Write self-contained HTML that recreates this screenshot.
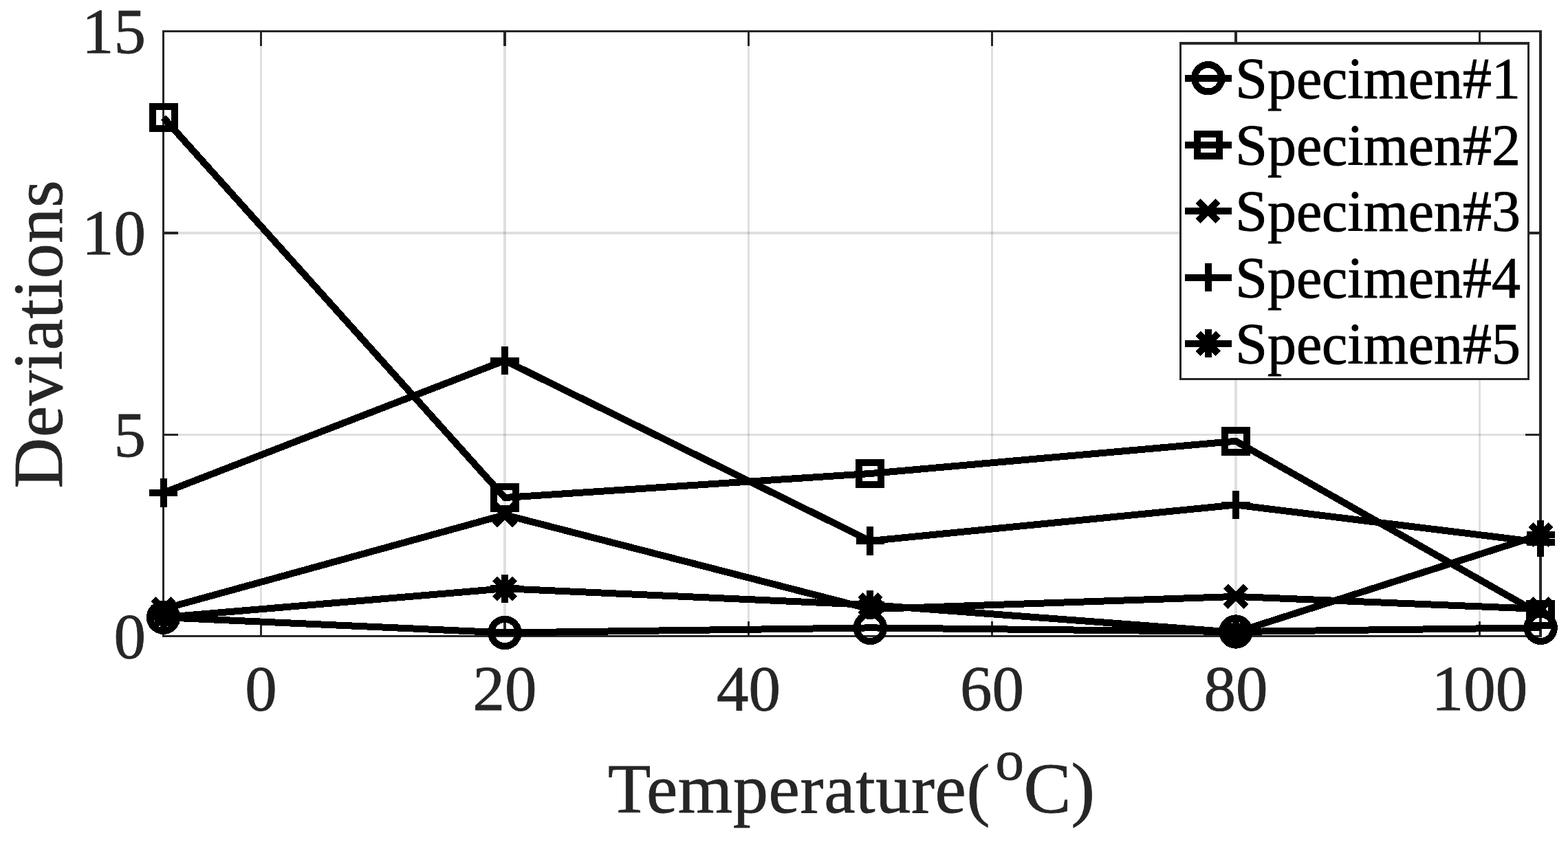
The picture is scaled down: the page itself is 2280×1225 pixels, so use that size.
<!DOCTYPE html>
<html lang="en"><head><meta charset="utf-8"><title>Deviations vs Temperature</title>
<style>
html,body{margin:0;padding:0;background:#fff;}
body{width:2280px;height:1225px;overflow:hidden;}
svg{display:block;}
text{font-family:"Liberation Serif","Times New Roman",Times,serif;}
.tk{font-size:93px;fill:#262626;stroke:#262626;stroke-width:0.8;}
.lb{font-size:103.4px;fill:#262626;stroke:#262626;stroke-width:0.8;}
.lm{font-size:102px;letter-spacing:0.7px;}
.sup{font-size:83px;}
.lg{font-size:85.5px;fill:#000;stroke:#000;stroke-width:1;}
.grid rect{fill:#262626;fill-opacity:0.15;}
.ax rect{fill:#262626;}
.data{stroke:#000;stroke-width:10;fill:none;stroke-linejoin:miter;stroke-linecap:butt;shape-rendering:crispEdges;}
.data polyline{stroke-linejoin:round;}
</style></head><body>
<svg width="2280" height="1225" viewBox="0 0 2280 1225">
<rect x="0" y="0" width="2280" height="1225" fill="#fff"/>
<g class="grid">
<rect x="378" y="67" width="3" height="837"/>
<rect x="732" y="67" width="4" height="837"/>
<rect x="1087" y="67" width="3" height="837"/>
<rect x="1441" y="67" width="3" height="837"/>
<rect x="1795" y="67" width="4" height="837"/>
<rect x="2150" y="67" width="3" height="837"/>
<rect x="259" y="631" width="1959" height="3"/>
<rect x="259" y="337" width="1959" height="4"/>
</g>
<g class="ax">
<rect x="236" y="44" width="2006" height="3"/>
<rect x="236" y="924" width="2006" height="3"/>
<rect x="236" y="47" width="3" height="877"/>
<rect x="2238" y="47" width="4" height="877"/>
<rect x="378" y="47" width="3" height="20"/>
<rect x="378" y="904" width="3" height="20"/>
<rect x="732" y="47" width="4" height="20"/>
<rect x="732" y="904" width="4" height="20"/>
<rect x="1087" y="47" width="3" height="20"/>
<rect x="1087" y="904" width="3" height="20"/>
<rect x="1441" y="47" width="3" height="20"/>
<rect x="1441" y="904" width="3" height="20"/>
<rect x="1795" y="47" width="4" height="20"/>
<rect x="1795" y="904" width="4" height="20"/>
<rect x="2150" y="47" width="3" height="20"/>
<rect x="2150" y="904" width="3" height="20"/>
<rect x="239" y="631" width="20" height="3"/>
<rect x="2218" y="631" width="20" height="3"/>
<rect x="239" y="337" width="20" height="4"/>
<rect x="2218" y="337" width="20" height="4"/>
</g>
<g class="data">
<polyline points="237.6,898.2 734,920.5 1265.4,913.4 1797,919 2240.2,913.3"/>
<circle cx="237.6" cy="898.2" r="19.7"/>
<circle cx="734" cy="920.5" r="19.7"/>
<circle cx="1265.4" cy="913.4" r="19.7"/>
<circle cx="1797" cy="919" r="19.7"/>
<circle cx="2240.2" cy="913.3" r="19.7"/>
<polyline points="237.6,171 734,724 1265.4,689 1797,641.8 2240.2,893.8"/>
<rect x="221.55" y="154.95" width="32.1" height="32.1"/>
<rect x="717.95" y="707.95" width="32.1" height="32.1"/>
<rect x="1249.35" y="672.95" width="32.1" height="32.1"/>
<rect x="1780.95" y="625.75" width="32.1" height="32.1"/>
<rect x="2224.15" y="877.75" width="32.1" height="32.1"/>
<polyline points="237.6,886 734,749 1265.4,886.2 1797,867.9 2240.2,886"/>
<path d="M223.03 871.43L252.17 900.57M223.03 900.57L252.17 871.43"/>
<path d="M719.43 734.43L748.57 763.57M719.43 763.57L748.57 734.43"/>
<path d="M1250.83 871.63L1279.97 900.77M1250.83 900.77L1279.97 871.63"/>
<path d="M1782.43 853.33L1811.57 882.47M1782.43 882.47L1811.57 853.33"/>
<path d="M2225.63 871.43L2254.77 900.57M2225.63 900.57L2254.77 871.43"/>
<polyline points="237.6,717 734,524.5 1265.4,787 1797,734.5 2240.2,789.1"/>
<path d="M217 717H258.2M237.6 696.4V737.6"/>
<path d="M713.4 524.5H754.6M734 503.9V545.1"/>
<path d="M1244.8 787H1286M1265.4 766.4V807.6"/>
<path d="M1776.4 734.5H1817.6M1797 713.9V755.1"/>
<path d="M2219.6 789.1H2260.8M2240.2 768.5V809.7"/>
<polyline points="237.6,898.2 734,856.25 1265.4,880 1797,920 2240.2,778"/>
<path d="M217 898.2H258.2M237.6 877.6V918.8M223.03 883.63L252.17 912.77M223.03 912.77L252.17 883.63"/>
<path d="M713.4 856.25H754.6M734 835.65V876.85M719.43 841.68L748.57 870.82M719.43 870.82L748.57 841.68"/>
<path d="M1244.8 880H1286M1265.4 859.4V900.6M1250.83 865.43L1279.97 894.57M1250.83 894.57L1279.97 865.43"/>
<path d="M1776.4 920H1817.6M1797 899.4V940.6M1782.43 905.43L1811.57 934.57M1782.43 934.57L1811.57 905.43"/>
<path d="M2219.6 778H2260.8M2240.2 757.4V798.6M2225.63 763.43L2254.77 792.57M2225.63 792.57L2254.77 763.43"/>
</g>
<text class="tk" x="379.5" y="1032.8" text-anchor="middle">0</text>
<text class="tk" x="734" y="1032.8" text-anchor="middle">20</text>
<text class="tk" x="1088.5" y="1032.8" text-anchor="middle">40</text>
<text class="tk" x="1442.5" y="1032.8" text-anchor="middle">60</text>
<text class="tk" x="1797" y="1032.8" text-anchor="middle">80</text>
<text class="tk" x="2151.5" y="1032.8" text-anchor="middle">100</text>
<text class="tk" x="212" y="956.9" text-anchor="end">0</text>
<text class="tk" x="212" y="663.9" text-anchor="end">5</text>
<text class="tk" x="212" y="369.6" text-anchor="end">10</text>
<text class="tk" x="212" y="76.9" text-anchor="end">15</text>
<text class="lb"><tspan class="lm" x="884" y="1181.7">Temperature(</tspan><tspan class="sup" x="1447.5" y="1133.5">o</tspan><tspan x="1488.5" y="1181.7">C)</tspan></text>
<text class="lb lm" transform="translate(90.3 486) rotate(-90)" text-anchor="middle">Deviations</text>
<rect x="1715" y="61" width="509" height="492" fill="#262626"/>
<rect x="1718" y="65" width="503" height="485" fill="#fff"/>
<g class="data">
<path d="M1723 113.75H1790.75"/>
<circle cx="1756.75" cy="113.75" r="19.7"/>
<path d="M1723 210.75H1790.75"/>
<rect x="1740.7" y="194.7" width="32.1" height="32.1"/>
<path d="M1723 307H1790.75"/>
<path d="M1742.18 292.43L1771.32 321.57M1742.18 321.57L1771.32 292.43"/>
<path d="M1723 403.5H1790.75"/>
<path d="M1736.15 403.5H1777.35M1756.75 382.9V424.1"/>
<path d="M1723 499.75H1790.75"/>
<path d="M1736.15 499.75H1777.35M1756.75 479.15V520.35M1742.18 485.18L1771.32 514.32M1742.18 514.32L1771.32 485.18"/>
</g>
<text class="lg" transform="translate(1796.3 143.15) scale(0.981 1)">Specimen#1</text>
<text class="lg" transform="translate(1796.3 240.15) scale(0.981 1)">Specimen#2</text>
<text class="lg" transform="translate(1796.3 336.4) scale(0.981 1)">Specimen#3</text>
<text class="lg" transform="translate(1796.3 432.9) scale(0.981 1)">Specimen#4</text>
<text class="lg" transform="translate(1796.3 529.15) scale(0.981 1)">Specimen#5</text>
</svg>
</body></html>
